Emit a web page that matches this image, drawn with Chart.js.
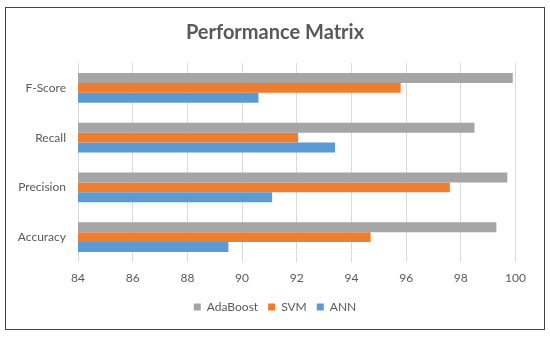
<!DOCTYPE html>
<html>
<head>
<meta charset="utf-8">
<script src="https://cdn.jsdelivr.net/npm/chart.js@4/dist/chart.umd.min.js"></script>
<style>
  html, body { margin: 0; padding: 0; background: #fff; }
  #wrap { position: relative; width: 550px; height: 338px; }
  #frame {
    position: absolute; left: 5px; top: 7px; width: 538px; height: 321px;
    border: 1.5px solid #444; pointer-events: none;
  }
  canvas { position: absolute; left: 0; top: 0; }
</style>
</head>
<body>
<div id="wrap">
  <canvas id="chart" width="550" height="338"></canvas>
  <div id="frame"></div>
</div>
<script>
const metrics = ["F-Score", "Recall", "Precision", "Accuracy"];
const adaBoost = [99.9, 98.5, 99.7, 99.3];
const svm = [95.8, 92.05, 97.6, 94.7];
const ann = [90.6, 93.4, 91.1, 89.5];
const xTicks = [84, 86, 88, 90, 92, 94, 96, 98, 100];

const textColor = "#595959";
const fontFamily = "Lato, 'Open Sans', sans-serif";

const ctx = document.getElementById("chart").getContext("2d");
new Chart(ctx, {
  type: "bar",
  data: {
    labels: metrics,
    datasets: [
      { label: "AdaBoost", data: adaBoost, backgroundColor: "#a5a5a5" },
      { label: "SVM", data: svm, backgroundColor: "#ed7d31" },
      { label: "ANN", data: ann, backgroundColor: "#5b9bd5" },
    ],
  },
  options: {
    indexAxis: "y",
    responsive: false,
    animation: false,
    barPercentage: 1,
    categoryPercentage: 0.6,
    // symmetric padding keeps title and legend centred on the page
    layout: { padding: { left: 17, right: 17, top: 0, bottom: 15 } },
    plugins: {
      title: {
        display: true,
        text: "Performance Matrix",
        color: textColor,
        font: { family: fontFamily, size: 20, weight: "bold" },
        padding: { top: 21, bottom: 18 },
      },
      legend: {
        position: "bottom",
        labels: {
          color: textColor,
          font: { family: fontFamily, size: 12 },
          boxWidth: 7,
          boxHeight: 7,
          padding: 10,
        },
      },
      tooltip: { enabled: false },
    },
    scales: {
      x: {
        min: 84,
        max: 100,
        afterBuildTicks: (scale) => {
          scale.ticks = xTicks.map((v) => ({ value: v }));
        },
        afterFit: (scale) => { scale.height = 29; },
        grid: { color: "#d9d9d9", drawTicks: false },
        border: { display: false },
        ticks: {
          color: textColor,
          font: { family: fontFamily, size: 12 },
          padding: 9,
        },
      },
      y: {
        afterFit: (scale) => { scale.width = 61; },
        grid: { display: false, drawTicks: false },
        border: { display: false },
        ticks: {
          color: textColor,
          font: { family: fontFamily, size: 12 },
          padding: 12,
        },
      },
      // empty spacer on the right so the plot ends at 100 like the original
      spacer: {
        axis: "y",
        type: "category",
        position: "right",
        afterFit: (scale) => { scale.width = 17.5; },
        grid: { display: false, drawTicks: false },
        border: { display: false },
        ticks: { display: false },
      },
    },
  },
});
</script>
</body>
</html>
